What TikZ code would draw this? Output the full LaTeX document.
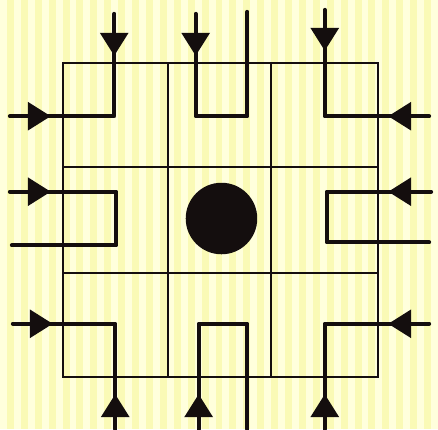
\documentclass[tikz,border=0pt]{standalone}
\usetikzlibrary{calc}
\definecolor{bgyellow}{RGB}{250,250,182}
\definecolor{bglight}{RGB}{255,255,220}
\definecolor{ink}{RGB}{20,14,14}
\tikzset{
  gridline/.style={draw=ink, line width=2pt},
  flow/.style={draw=ink, line width=4.2pt, line cap=round, line join=round},
  pics/tri/.style={code={\fill[ink] (1,0) -- (-22,14.5) -- (-22,-14.5) -- cycle;}}
}
\begin{document}
\begin{tikzpicture}[x=1pt,y=-1pt]
  % background
  \fill[bgyellow] (0,0) rectangle (438,432);
  \foreach \i in {0,14,...,438} {
    \fill[bglight] (\i,0) rectangle ++(7,432);
  }
  \useasboundingbox (0,0) rectangle (438,432);
  % grid
  \draw[gridline] (63,63) rectangle (381,380);
  \draw[gridline] (169,63) -- (169,380);
  \draw[gridline] (273,63) -- (273,380);
  \draw[gridline] (63,168) -- (381,168);
  \draw[gridline] (63,275) -- (381,275);
  % centre disc
  \fill[ink] (223,220) circle[radius=36];
  % top row
  \draw[flow] (115,14) -- (115,117) -- (10,117);
  \draw[flow] (197,14) -- (197,117) -- (249,117) -- (249,12);
  \draw[flow] (327,10) -- (327,117) -- (432,117);
  % middle row
  \draw[flow] (10,193) -- (117,193) -- (117,247) -- (12,247);
  \draw[flow] (434,193) -- (329,193) -- (329,244) -- (432,244);
  % bottom row
  \draw[flow] (13,326) -- (116,326) -- (116,432);
  \draw[flow] (200,432) -- (200,326) -- (249,326) -- (249,432);
  \draw[flow] (432,326) -- (327,326) -- (327,432);
  % arrowheads
  \pic[rotate=-90] at (115,55) {tri};
  \pic at (50,117) {tri};
  \pic[rotate=-90] at (197,55) {tri};
  \pic[rotate=-90] at (327,50) {tri};
  \pic[rotate=180] at (392,117) {tri};
  \pic at (50,193) {tri};
  \pic[rotate=180] at (392,193) {tri};
  \pic at (52,326) {tri};
  \pic[rotate=90] at (116,398) {tri};
  \pic[rotate=90] at (200,398) {tri};
  \pic[rotate=180] at (392,326) {tri};
  \pic[rotate=90] at (327,398) {tri};
\end{tikzpicture}
\end{document}
